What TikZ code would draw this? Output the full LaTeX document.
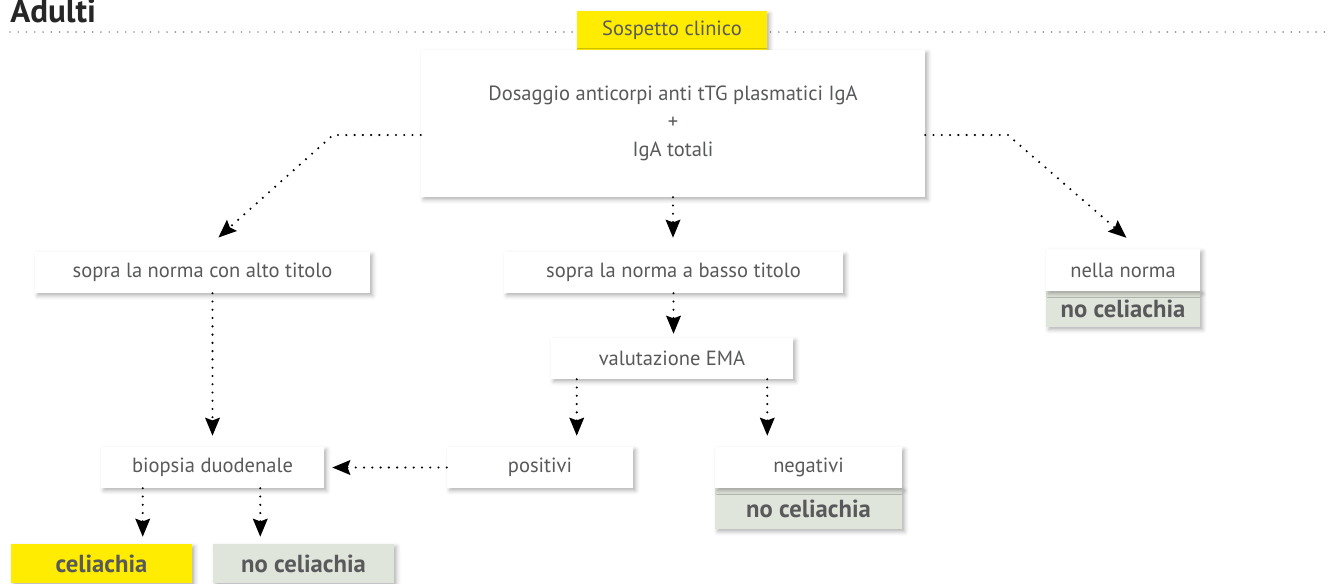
\documentclass[tikz,border=0pt]{standalone}
\usepackage{fontspec}
\setmainfont{PT Sans}
\usetikzlibrary{positioning,calc,arrows.meta,shadows.blur}
\definecolor{txtgray}{HTML}{58595B}
\definecolor{cyellow}{HTML}{FFEC00}
\definecolor{cgreen}{HTML}{E0E5DB}
\definecolor{dotgray}{HTML}{939598}
\tikzset{font=\fontsize{15.4}{18}\selectfont}

\begin{document}
\begin{tikzpicture}[x=0.75pt,y=-0.75pt]
	\useasboundingbox (0,0) rectangle (1337,583);
	\tikzstyle{every node}=[align=center, inner sep=0pt, text=txtgray]
	\tikzstyle{box}=[fill=white, minimum height=30.75pt,
		blur shadow={shadow xshift=2pt, shadow yshift=-2pt, shadow blur radius=3pt, shadow opacity=30}]
	\tikzstyle{yellowbox}=[box, fill=cyellow]
	\tikzstyle{greenbox}=[box, fill=cgreen, font=\fontsize{18.5}{20}\selectfont\bfseries]
	\tikzstyle{arr}=[line width=1.75pt, line cap=round, dash pattern=on 0pt off 6.2pt,
		-{Stealth[length=13.5pt, width=11pt, inset=2pt]}]

	% title and rule
	\node[anchor=base west, text=black!85, font=\fontsize{24.8}{28}\selectfont\bfseries] (title) at (10,22) {Adulti};
	\coordinate (ruleL) at (10,32);
	\coordinate (ruleR) at (1330,32);
	\draw[dotgray, line width=1.4pt, line cap=round, dash pattern=on 0pt off 6.2pt] (ruleL) -- (ruleR);

	\node[yellowbox, minimum width=142.5pt, minimum height=29.25pt] (sosp) at (672,30.5) {Sospetto clinico};
	\node[box, minimum width=378pt, minimum height=110.25pt, font=\fontsize{15.4}{21}\selectfont] (main) at (673,123.5)
		{Dosaggio anticorpi anti tTG plasmatici IgA\\+\\IgA totali};

	\node[box, minimum width=251.25pt] (alto) at (202.5,272.5) {sopra la norma con alto titolo};
	\node[box, minimum width=254.25pt] (basso) at (673.5,272.5) {sopra la norma a basso titolo};
	\node[greenbox, minimum width=115.5pt, minimum height=27pt] (nellano) at (1123,309) {no celiachia};
	\node[box, minimum width=115.5pt, minimum height=31.5pt] (nella) at (1123,270) {nella norma};

	\node[box, minimum width=181.5pt] (ema) at (672,358.5) {valutazione EMA};

	\node[box, minimum width=167.25pt] (biopsia) at (212.5,467.5) {biopsia duodenale};
	\node[box, minimum width=139.5pt] (pos) at (540,467.5) {positivi};
	\node[greenbox, minimum width=140.25pt] (negno) at (808.5,508.5) {no celiachia};
	\node[box, minimum width=140.25pt] (neg) at (808.5,467.5) {negativi};

	\node[yellowbox, minimum width=135.75pt, minimum height=29.25pt, font=\fontsize{18.5}{20}\selectfont\bfseries] (celi) at (101.5,563.5) {celiachia};
	\node[greenbox, minimum width=135.75pt, minimum height=29.25pt] (noceli) at (303.5,563.5) {no celiachia};

	% connectors
	\coordinate (lk) at (333,135);
	\coordinate (rk) at (1008,135);
	\coordinate (emaL) at ($(ema.south west)+(26,0)$);
	\coordinate (emaR) at ($(ema.south east)+(-26,0)$);
	\coordinate (bioL) at ($(biopsia.south west)+(42,0)$);
	\coordinate (bioR) at ($(biopsia.south east)+(-64,0)$);

	\draw[arr, shorten >=16pt] (main.west |- lk) -- (lk) -- (alto.north);
	\draw[arr, shorten >=12.5pt] (main.east |- rk) -- (rk) -- ([xshift=12pt]nella.north);
	\draw[arr, shorten >=10.5pt] (main.south) -- (main.south |- basso.north);
	\draw[arr, shorten >=3pt] (basso.south) -- (basso.south |- ema.north);
	\draw[arr, shorten >=8.25pt] (biopsia.north |- alto.south) -- (biopsia.north);
	\draw[arr, shorten >=8.25pt] (emaL) -- (emaL |- pos.north);
	\draw[arr, shorten >=8.25pt] (emaR) -- (emaR |- neg.north);
	\draw[arr, shorten >=6pt] (pos.west) -- (biopsia.east);
	\draw[arr, shorten >=5.25pt] (bioL) -- (bioL |- celi.north);
	\draw[arr, shorten >=5.25pt] (bioR) -- (bioR |- noceli.north);
\end{tikzpicture}
\end{document}
